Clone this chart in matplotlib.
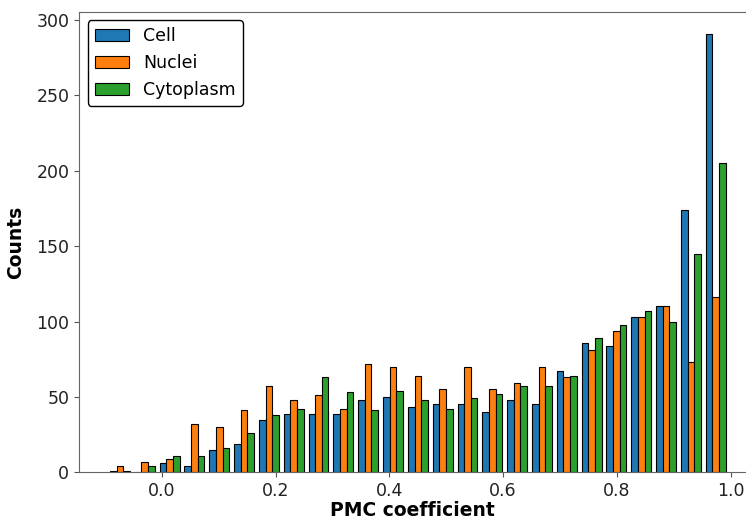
import matplotlib
matplotlib.use('Agg')

import numpy as np
import matplotlib.pyplot as plt


# Histogram counts per bin
bin_lo = -0.0953
bin_hi = 0.9956
n_bins = 25

cell = [1, 0, 6, 4, 15, 19, 35, 39, 39, 39, 48, 50, 43,
        45, 45, 40, 48, 45, 67, 86, 84, 103, 110, 174, 291]
nuclei = [4, 7, 9, 32, 30, 41, 57, 48, 51, 42, 72, 70, 64,
          55, 70, 55, 59, 70, 63, 81, 94, 103, 110, 73, 116]
cytoplasm = [1, 4, 11, 11, 16, 26, 38, 42, 63, 53, 41, 54, 48,
             42, 49, 52, 57, 57, 64, 89, 98, 107, 100, 145, 205]
labels = ['Cell', 'Nuclei', 'Cytoplasm']


def plot_hist(out):
    """ Grouped histogram of PMC coefficients. """
    edges = np.linspace(bin_lo, bin_hi, n_bins + 1)
    centers = (edges[:-1] + edges[1:]) / 2.

    fig = plt.figure(figsize=(7.46, 5.21), dpi=100)
    ax = fig.add_axes([0.106, 0.0935, 0.894, 0.8839])

    ax.hist([centers, centers, centers], bins=edges,
            weights=[cell, nuclei, cytoplasm], label=labels,
            color=['#1f77b4', '#ff7f0e', '#2ca02c'],
            edgecolor='black', linewidth=0.8)
    # original is cropped on the right, so no right spine shows
    ax.set_xlim(-0.1453, 1.027)
    ax.spines['right'].set_visible(False)

    # Axis labels
    ax.set_xlabel('PMC coefficient', fontsize=13.5, fontweight='bold', labelpad=1)
    ax.set_ylabel('Counts', fontsize=13.5, fontweight='bold', labelpad=8)

    ax.set_xticks([0.0, 0.2, 0.4, 0.6, 0.8, 1.0])
    ax.tick_params(labelsize=12.5, colors='#555555', labelcolor='#222222')
    for s in ax.spines.values():
        s.set_color('#666666')

    ax.legend(loc='upper left', fontsize=12.5, edgecolor='black',
              fancybox=True, framealpha=1)

    plt.savefig(out, dpi=100)


if __name__ == '__main__':
    plot_hist('out.png')
